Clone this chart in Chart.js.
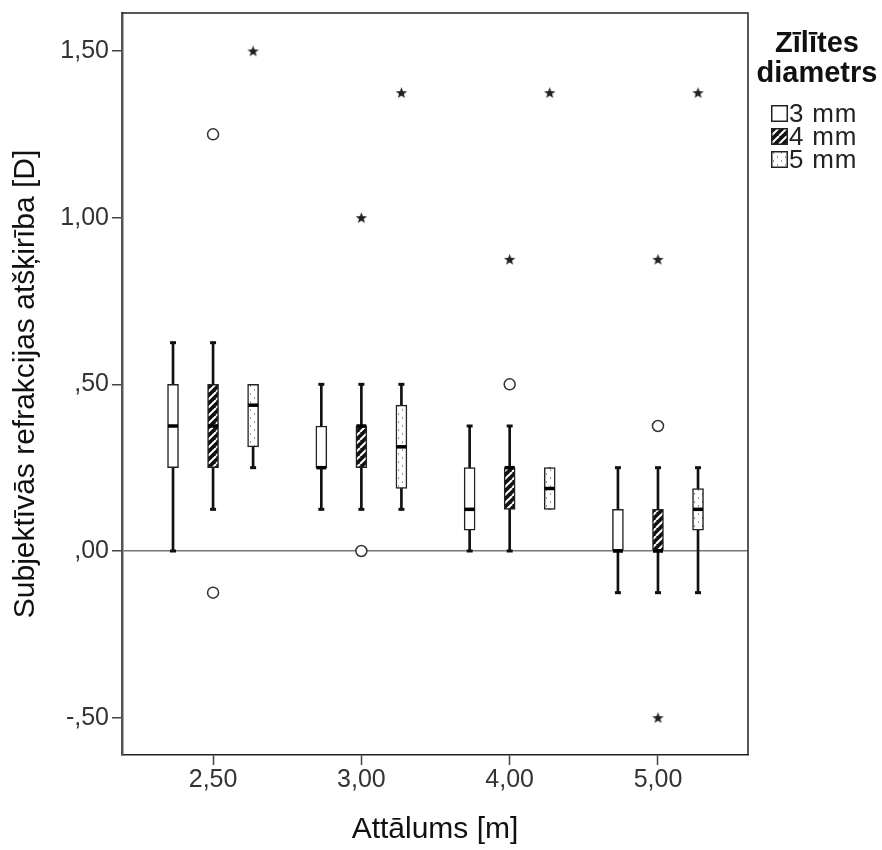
<!DOCTYPE html>
<html>
<head>
<meta charset="utf-8">
<script src="https://cdn.jsdelivr.net/npm/chart.js@4.4.0/dist/chart.umd.min.js"></script>
<style>
    html, body { margin: 0; padding: 0; background: #fff; }
    #wrap { position: relative; width: 882px; height: 850px; }
    #legend { position: absolute; left: 752px; top: 27px; width: 130px; font-family: "Liberation Sans", Arial, sans-serif; color: #111; }
    #legend .ttl { text-align: center; font-weight: bold; font-size: 29px; line-height: 30px; }
    #legend .item { position: absolute; left: 19px; height: 23px; display: flex; align-items: center; font-size: 26px; letter-spacing: 0.8px; color: #222; }
    #legend .item canvas { margin-right: 1px; }
</style>
</head>
<body>
<div id="wrap">
    <canvas id="boxChart" width="882" height="850"></canvas>
    <div id="legend"></div>
</div>
<script>
// categories
const distances = ['2,50', '3,00', '4,00', '5,00'];
const sizes = ['3 mm', '4 mm', '5 mm'];
const sizeOffsets = [-0.27, 0, 0.27];

// y ticks
const yTickValues = [-0.5, 0, 0.5, 1, 1.5];
const yTickLabels = ['-,50', ',00', ',50', '1,00', '1,50'];

// box statistics per pupil size (one value per distance)
const low3 = [0, 0.125, 0, -0.125];
const q1_3 = [0.25, 0.25, 0.0625, 0];
const med3 = [0.375, 0.25, 0.125, 0];
const q3_3 = [0.5, 0.375, 0.25, 0.125];
const high3 = [0.625, 0.5, 0.375, 0.25];

const low4 = [0.125, 0.125, 0, -0.125];
const q1_4 = [0.25, 0.25, 0.125, 0];
const med4 = [0.375, 0.375, 0.25, 0];
const q3_4 = [0.5, 0.375, 0.25, 0.125];
const high4 = [0.625, 0.5, 0.375, 0.25];

const low5 = [0.25, 0.125, 0.125, -0.125];
const q1_5 = [0.3125, 0.1875, 0.125, 0.0625];
const med5 = [0.4375, 0.3125, 0.1875, 0.125];
const q3_5 = [0.5, 0.4375, 0.25, 0.1875];
const high5 = [0.5, 0.5, 0.25, 0.25];

// outliers: [distance index, size index, value]
const circleOutliers = [[0, 1, 1.25], [0, 1, -0.125], [1, 1, 0], [2, 1, 0.5], [3, 1, 0.375]];
const starOutliers = [[0, 2, 1.5], [1, 1, 1.0], [1, 2, 1.375], [2, 1, 0.875], [2, 2, 1.375], [3, 1, 0.875], [3, 1, -0.5], [3, 2, 1.375]];

const stats = [
    { low: low3, q1: q1_3, med: med3, q3: q3_3, high: high3 },
    { low: low4, q1: q1_4, med: med4, q3: q3_4, high: high4 },
    { low: low5, q1: q1_5, med: med5, q3: q3_5, high: high5 }
];

function makeTile(kind) {
    const c = document.createElement('canvas');
    c.width = 8; c.height = 8;
    const g = c.getContext('2d');
    if (kind === 0) {
        g.fillStyle = '#fff';
        g.fillRect(0, 0, 8, 8);
    } else if (kind === 1) {
        g.fillStyle = '#111';
        g.fillRect(0, 0, 8, 8);
        g.strokeStyle = '#fff';
        g.lineWidth = 2;
        [-8, 0, 8].forEach(o => {
            g.beginPath();
            g.moveTo(o, 8);
            g.lineTo(o + 8, 0);
            g.stroke();
        });
    } else {
        g.fillStyle = '#fff';
        g.fillRect(0, 0, 8, 8);
        g.fillStyle = '#999';
        g.fillRect(2, 1, 1, 2);
        g.fillRect(6, 5, 1, 2);
    }
    return c;
}

const ctxMain = document.getElementById('boxChart').getContext('2d');
const fills = [0, 1, 2].map(k => ctxMain.createPattern(makeTile(k), 'repeat'));

function starImage() {
    const c = document.createElement('canvas');
    c.width = 13; c.height = 13;
    const g = c.getContext('2d');
    g.fillStyle = '#222';
    g.beginPath();
    for (let i = 0; i < 10; i++) {
        const r = i % 2 === 0 ? 6 : 2.5;
        const a = -Math.PI / 2 + i * Math.PI / 5;
        g.lineTo(6.5 + r * Math.cos(a), 7 + r * Math.sin(a));
    }
    g.closePath();
    g.fill();
    return c;
}

const whiskerData = [], boxData = [[], [], []], capData = [], medianData = [];
stats.forEach((s, si) => {
    distances.forEach((d, di) => {
        const x = di + sizeOffsets[si];
        whiskerData.push({ x: x, y: [s.low[di], s.high[di]] });
        boxData[si].push({ x: x, y: [s.q1[di], s.q3[di]] });
        medianData.push({ x: x, y: s.med[di] });
        if (s.low[di] < s.q1[di]) capData.push({ x: x, y: s.low[di] });
        if (s.high[di] > s.q3[di]) capData.push({ x: x, y: s.high[di] });
    });
});

const frame = {
    id: 'frame',
    afterDraw(chart) {
        const a = chart.chartArea, c = chart.ctx;
        c.save();
        c.strokeStyle = '#222';
        c.lineWidth = 1.5;
        c.beginPath();
        c.moveTo(a.left, a.top);
        c.lineTo(a.right, a.top);
        c.lineTo(a.right, a.bottom);
        c.stroke();
        c.restore();
    }
};

const fontFam = '"Liberation Sans", Arial, sans-serif';

new Chart(ctxMain, {
    type: 'bar',
    data: {
        datasets: [
            { data: whiskerData, backgroundColor: '#111', borderWidth: 0, barThickness: 2, grouped: false, order: 6 },
            ...sizes.map((s, i) => ({
                label: s, data: boxData[i], backgroundColor: fills[i], borderColor: '#222',
                borderWidth: 1.5, borderSkipped: false, barThickness: 11, grouped: false, order: 5
            })),
            { type: 'scatter', data: capData, pointStyle: 'line', radius: 3, borderWidth: 3, borderColor: '#111', order: 4 },
            { type: 'scatter', data: medianData, pointStyle: 'line', radius: 5, borderWidth: 3.5, borderColor: '#000', order: 3 },
            {
                type: 'scatter', data: circleOutliers.map(o => ({ x: o[0] + sizeOffsets[o[1]], y: o[2] })),
                pointStyle: 'circle', radius: 5.5, borderWidth: 1.5, borderColor: '#333', backgroundColor: '#fff', order: 2
            },
            {
                type: 'scatter', data: starOutliers.map(o => ({ x: o[0] + sizeOffsets[o[1]], y: o[2] })),
                pointStyle: starImage(), radius: 6, order: 1
            }
        ]
    },
    options: {
        responsive: false,
        animation: false,
        layout: { padding: { top: 13, right: 134, left: 0, bottom: 0 } },
        plugins: { legend: { display: false }, tooltip: { enabled: false } },
        scales: {
            x: {
                type: 'linear', min: -0.614, max: 3.607, offset: false,
                afterBuildTicks: axis => { axis.ticks = distances.map((d, i) => ({ value: i })); },
                afterFit: axis => { axis.height = 95; axis.paddingLeft = 0; axis.paddingRight = 0; },
                ticks: { callback: v => distances[v], font: { family: fontFam, size: 25 }, color: '#333', padding: 0, maxRotation: 0 },
                grid: { offset: false, drawOnChartArea: false, tickLength: 10, tickColor: '#444', tickWidth: 1.5 },
                border: { color: '#222', width: 1.5 },
                title: { display: true, text: 'Attālums [m]', font: { family: fontFam, size: 30 }, color: '#111', padding: { top: 2, bottom: 2 } }
            },
            y: {
                min: -0.612, max: 1.614,
                afterBuildTicks: axis => { axis.ticks = yTickValues.map(v => ({ value: v })); },
                afterFit: axis => { axis.width = 122; axis.paddingTop = 0; axis.paddingBottom = 0; },
                ticks: { callback: v => yTickLabels[yTickValues.indexOf(v)], font: { family: fontFam, size: 25 }, color: '#333', padding: 3 },
                grid: {
                    color: c => (c.tick && c.tick.value === 0 ? '#777' : 'rgba(0,0,0,0)'),
                    lineWidth: 1.5, tickLength: 10, tickColor: '#444', tickWidth: 1.5
                },
                border: { color: '#555', width: 2.5 },
                title: { display: true, text: 'Subjektīvās refrakcijas atšķirība [D]', font: { family: fontFam, size: 30 }, color: '#111', padding: { top: 8, bottom: 2 } }
            }
        }
    },
    plugins: [frame]
});

// legend
const legend = document.getElementById('legend');
legend.innerHTML = '<div class="ttl">Zīlītes</div><div class="ttl">diametrs</div>';
sizes.forEach((s, i) => {
    const item = document.createElement('div');
    item.className = 'item';
    item.style.top = (75 + i * 23) + 'px';
    const sw = document.createElement('canvas');
    sw.width = 17; sw.height = 17;
    const g = sw.getContext('2d');
    g.fillStyle = g.createPattern(makeTile(i), 'repeat');
    g.fillRect(0, 0, 17, 17);
    g.strokeStyle = '#222';
    g.lineWidth = 1.5;
    g.strokeRect(0.75, 0.75, 15.5, 15.5);
    item.appendChild(sw);
    item.appendChild(document.createTextNode(s));
    legend.appendChild(item);
});
</script>
</body>
</html>
